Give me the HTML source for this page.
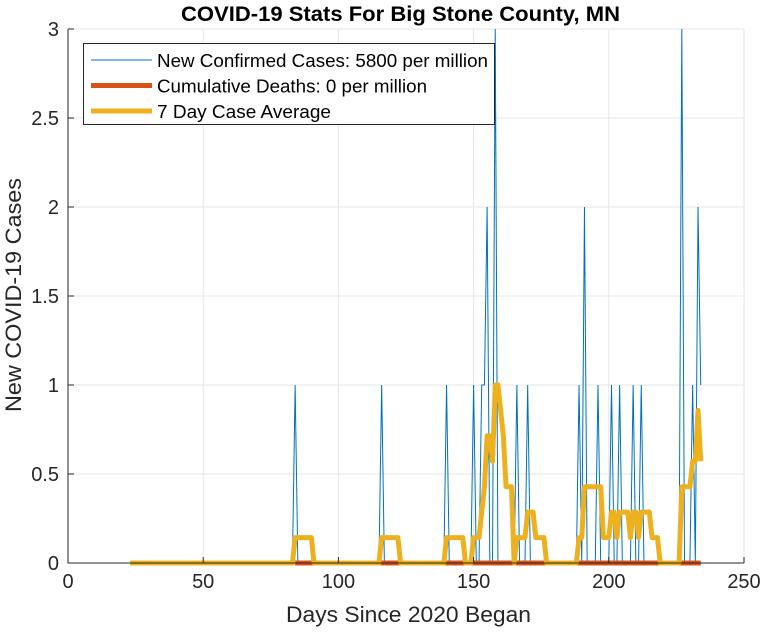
<!DOCTYPE html>
<html><head><meta charset="utf-8"><style>
body{margin:0;background:#fff;font-family:"Liberation Sans",Arial,sans-serif}
</style></head><body>
<svg id="chart" width="766" height="630" xmlns="http://www.w3.org/2000/svg" font-family="Liberation Sans, Arial, sans-serif"></svg>
<script>
const xTicks=[0,50,100,150,200,250];
const yTicks=[0,0.5,1,1.5,2,2.5,3];
const yTickLabels=["0","0.5","1","1.5","2","2.5","3"];
const startDay=23, endDay=234;
const caseDays=[84,116,140,150,153,154,155,158,166,170,189,191,196,201,204,209,212,227,231,233,234];
const caseVals=[1,1,1,1,1,1,2,3,1,1,1,2,1,1,1,1,1,3,1,2,1];
const deathStart=84;
const svg=document.getElementById('chart');
const NS="http://www.w3.org/2000/svg";
const L=68,R=744,T=29,B=563;
const sx=d=>L+(d-0)/(250-0)*(R-L);
const sy=v=>B-(v-0)/(3-0)*(B-T);
function el(t,a,p){const e=document.createElementNS(NS,t);for(const k in a)e.setAttribute(k,a[k]);(p||svg).appendChild(e);return e;}
const defs=el('defs',{});const cp=el('clipPath',{id:'clip'},defs);el('rect',{x:L,y:T-1,width:R-L,height:B-T+6},cp);
xTicks.forEach(t=>{const g=el('line',{x1:sx(t),x2:sx(t),y1:T,y2:B,stroke:'#e6e6e6','stroke-width':1});

});
yTicks.forEach(t=>{const g=el('line',{x1:L,x2:R,y1:sy(t),y2:sy(t),stroke:'#e6e6e6','stroke-width':1});

});
const days=[],cases=[];
for(let d=startDay;d<=endDay;d++){days.push(d);const i=caseDays.indexOf(d);cases.push(i>=0?caseVals[i]:0);}
const avg=cases.map((v,i)=>{let s=0;for(let j=i-6;j<=i;j++)s+=(j>=0?cases[j]:0);return s/7;});
const g=el('g',{'clip-path':'url(#clip)'});
const pc=el('polyline',{points:days.map((d,i)=>sx(d)+','+sy(cases[i])).join(' '),fill:'none',stroke:'#0072bd','stroke-width':1},g);


const pd=el('line',{x1:sx(deathStart),x2:sx(endDay),y1:sy(0),y2:sy(0),stroke:'#d95319','stroke-width':5});


const pa=el('polyline',{points:days.map((d,i)=>sx(d)+','+sy(avg[i])).join(' '),fill:'none',stroke:'#edb120','stroke-width':5,'stroke-linejoin':'round'});


const ax=el('path',{d:`M${L},${T}V${B}H${R}`,fill:'none',stroke:'#262626','stroke-width':1});


xTicks.forEach(t=>{el('line',{x1:sx(t),x2:sx(t),y1:B,y2:B-6,stroke:'#262626'});
const tx=el('text',{x:sx(t),y:B+25,'text-anchor':'middle','font-size':20,fill:'#262626'});tx.textContent=t;

});
yTicks.forEach((t,i)=>{el('line',{x1:L,x2:L+6,y1:sy(t),y2:sy(t),stroke:'#262626'});
const tx=el('text',{x:L-9,y:sy(t)+7,'text-anchor':'end','font-size':20,fill:'#262626'});tx.textContent=yTickLabels[i];

});
const ti=el('text',{x:181,y:21,'font-size':21,'font-weight':'bold',fill:'#000',textLength:439,lengthAdjust:'spacingAndGlyphs'});ti.textContent='COVID-19 Stats For Big Stone County, MN';


const xl=el('text',{x:286,y:622,'font-size':22,fill:'#262626',textLength:245,lengthAdjust:'spacingAndGlyphs'});xl.textContent='Days Since 2020 Began';


const yl=el('text',{x:0,y:0,'font-size':22,fill:'#262626',textLength:234,lengthAdjust:'spacingAndGlyphs',transform:`translate(21,412) rotate(-90)`});yl.textContent='New COVID-19 Cases';


const lg=el('g',{});


el('rect',{x:83.5,y:43.5,width:411,height:81,fill:'#fff',stroke:'#262626','stroke-width':1},lg);
const items=[['New Confirmed Cases: 5800 per million','#0072bd',1,331],['Cumulative Deaths: 0 per million','#d95319',5,270],['7 Day Case Average','#edb120',5,174]];
items.forEach((it,i)=>{const y=60+i*25.5;
el('line',{x1:91,x2:152,y1:y,y2:y,stroke:it[1],'stroke-width':it[2]},lg);
const t=el('text',{x:157,y:y+7,'font-size':18.5,fill:'#000',textLength:it[3],lengthAdjust:'spacingAndGlyphs'},lg);t.textContent=it[0];

});
</script>
</body></html>
